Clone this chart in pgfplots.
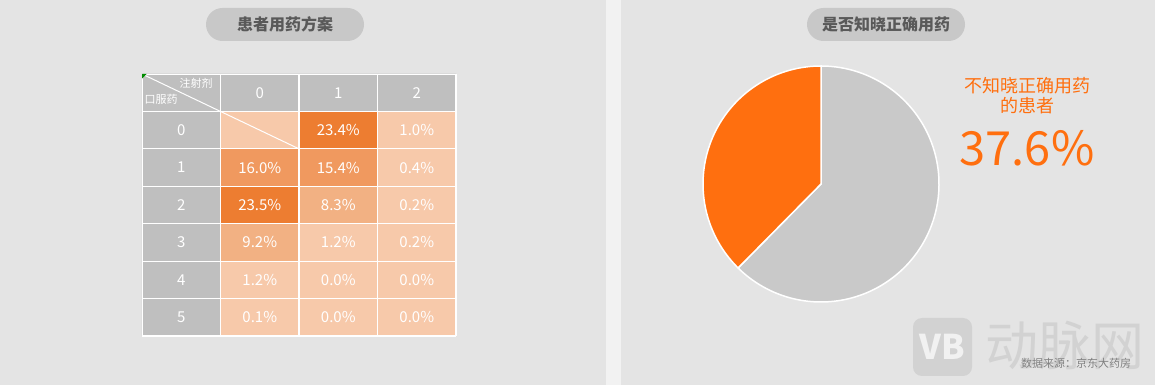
\documentclass[border=0pt]{standalone}
\usepackage{pgfplots}
\pgfplotsset{compat=1.18}
\usepackage{fontspec}
\setmainfont{Noto Sans CJK SC}
\definecolor{bg}{HTML}{E4E4E4}
\definecolor{sep}{HTML}{F2F2F2}
\definecolor{pill}{HTML}{C8C8C8}
\definecolor{pilltext}{HTML}{595959}
\definecolor{pieor}{HTML}{FF6F0F}
\definecolor{piegr}{HTML}{C9C9C9}
\definecolor{wm}{HTML}{D2D2D2}
\definecolor{src}{HTML}{808080}
\begin{document}
\begin{tikzpicture}[x=1pt,y=1pt]
\useasboundingbox (0,0) rectangle (1155,385);
\fill[bg] (0,0) rectangle (1155,385);
\fill[sep] (606,0) rectangle (621,385);
% title pills
\fill[pill, rounded corners=16.5pt] (206,344) rectangle (364,377);
\node[font=\fontsize{16}{16}\selectfont\bfseries, text=pilltext] at (285,360.5) {患者用药方案};
\fill[pill, rounded corners=16.5pt] (807,344) rectangle (965,377);
\node[font=\fontsize{16}{16}\selectfont\bfseries, text=pilltext] at (886,360.5) {是否知晓正确用药};

% heatmap
\begin{axis}[at={(142pt,49pt)}, anchor=south west, scale only axis,
  width=314pt, height=262pt, hide axis,
  xmin=-0.5, xmax=3.5, ymin=-0.5, ymax=6.5, y dir=reverse, clip=false,
  colormap={cells}{rgb255=(247,201,170) rgb255=(242,177,131) rgb255=(240,153,95) rgb255=(237,125,49) rgb255=(191,191,191)},
  colormap access=direct]
\addplot[matrix plot*, mesh/cols=4, point meta=explicit] table[meta=c] {
x y c
0 0 4
1 0 4
2 0 4
3 0 4
0 1 4
1 1 0
2 1 3
3 1 0
0 2 4
1 2 2
2 2 2
3 2 0
0 3 4
1 3 3
2 3 1
3 3 0
0 4 4
1 4 1
2 4 0
3 4 0
0 5 4
1 5 0
2 5 0
3 5 0
0 6 4
1 6 0
2 6 0
3 6 0
};
\pgfplotsinvokeforeach{0.5,1.5,2.5,3.5}{
  \addplot[white, line width=1.2pt] coordinates {(#1,-0.5) (#1,6.5)};
}
\pgfplotsinvokeforeach{0.5,1.5,2.5,3.5,4.5,5.5,6.5}{
  \addplot[white, line width=1.2pt] coordinates {(-0.5,#1) (3.5,#1)};
}
\addplot[white, line width=0.8pt] coordinates {(-0.5,6.5) (-0.5,-0.5) (3.5,-0.5)};
\addplot[white, line width=1pt] coordinates {(-0.5,-0.5) (1.5,1.5)};
\addplot[fill=green!55!black, draw=none] coordinates {(-0.5,-0.5) (-0.44,-0.5) (-0.5,-0.38)} -- cycle;
\addplot[draw=none, mark=none, nodes near coords, point meta=explicit symbolic,
  nodes near coords style={anchor=center, text=white, font=\fontsize{15}{15}\selectfont}] table[meta=l] {
x y l
1 0 0
2 0 1
3 0 2
0 1 0
0 2 1
0 3 2
0 4 3
0 5 4
0 6 5
};
\addplot[draw=none, mark=none, nodes near coords={\pgfplotspointmeta\%}, point meta=explicit symbolic,
  nodes near coords style={anchor=center, text=white, font=\fontsize{15}{15}\selectfont}] table[meta=v] {
x y v
2 1 23.4
3 1 1.0
1 2 16.0
2 2 15.4
3 2 0.4
1 3 23.5
2 3 8.3
3 3 0.2
1 4 9.2
2 4 1.2
3 4 0.2
1 5 1.2
2 5 0.0
3 5 0.0
1 6 0.1
2 6 0.0
3 6 0.0
};
\end{axis}
\node[text=white, font=\fontsize{11}{11}\selectfont] at (196,302) {注射剂};
\node[text=white, font=\fontsize{11}{11}\selectfont] at (161,286) {口服药};

% pie
\begin{axis}[at={(821pt,201pt)}, anchor=center, scale only axis,
  width=236pt, height=236pt, hide axis,
  xmin=-1, xmax=1, ymin=-1, ymax=1, clip=false]
\addplot[fill=piegr, draw=white, line width=1.5pt, domain=225.36:450, samples=120, variable=\t]
  ({cos(\t)},{sin(\t)}) -- (axis cs:0,0) -- cycle;
\addplot[fill=pieor, draw=white, line width=1.5pt, domain=90:225.36, samples=80, variable=\t]
  ({cos(\t)},{sin(\t)}) -- (axis cs:0,0) -- cycle;
\end{axis}
\node[text=pieor, font=\fontsize{18}{20}\selectfont, align=center] at (1027,289) {不知晓正确用药\\的患者};
\node[text=pieor, font=\fontsize{47}{47}\selectfont] at (1027,237) {37.6\%};

% watermark
\fill[wm, rounded corners=9pt] (913,9) rectangle (972,67);
\node[text=bg!50!white, font=\bfseries\fontsize{34}{34}\selectfont] at (942.5,38) {VB};
\node[text=wm, font=\fontsize{53}{53}\selectfont] at (1065,40) {动脉网};
\node[text=src, font=\fontsize{11}{11}\selectfont] at (1076,22) {数据来源：京东大药房};
\end{tikzpicture}
\end{document}
